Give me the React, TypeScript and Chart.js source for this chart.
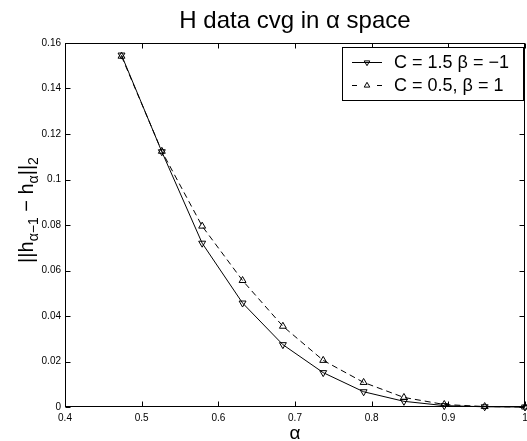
import React, { useEffect, useRef } from 'react';
import { Chart, registerables } from 'chart.js';

Chart.register(...registerables);

// ---- data ----
const alphaValues = [0.4737, 0.5263, 0.5789, 0.6316, 0.6842, 0.7368, 0.7895, 0.8421, 0.8947, 0.9474, 1.0];
const normC15 = [0.1547, 0.1122, 0.0720, 0.0457, 0.0274, 0.0151, 0.0067, 0.0025, 0.0006, 0.0001, 0.0];
const normC05 = [0.1542, 0.1124, 0.0795, 0.0556, 0.0355, 0.0205, 0.0108, 0.0042, 0.0011, 0.0002, 0.0];
const xTickValues = [0.4, 0.5, 0.6, 0.7, 0.8, 0.9, 1];
const yTickValues = [0, 0.02, 0.04, 0.06, 0.08, 0.1, 0.12, 0.14, 0.16];
const seriesLabels = ['C = 1.5 \u03b2 = \u22121', 'C = 0.5, \u03b2 = 1'];
const titleText = 'H data cvg in \u03b1 space';
const xTitleText = '\u03b1';
// y title pieces: [text, isSubscript]
const yTitleParts: [string, boolean][] = [
  ['||h', false],
  ['\u03b1\u22121', true],
  [' \u2212 h', false],
  ['\u03b1', true],
  ['||', false],
  ['2', true],
];

const FONT = "'Liberation Sans', Arial, Helvetica, sans-serif";

const fmt = (v: number) => String(Number(v.toFixed(2)));

function drawTri(ctx: CanvasRenderingContext2D, x: number, y: number, r: number, down: boolean) {
  const h = r * 1.5;
  const half = r * 0.866;
  ctx.beginPath();
  if (down) {
    ctx.moveTo(x - half, y - h / 3);
    ctx.lineTo(x + half, y - h / 3);
    ctx.lineTo(x, y + (2 * h) / 3);
  } else {
    ctx.moveTo(x - half, y + h / 3);
    ctx.lineTo(x + half, y + h / 3);
    ctx.lineTo(x, y - (2 * h) / 3);
  }
  ctx.closePath();
  ctx.stroke();
}

const decorPlugin = {
  id: 'matlabDecor',
  afterDraw(chart: any) {
    const { ctx, chartArea: a, scales } = chart;
    const xs = scales.x;
    const ys = scales.y;
    ctx.save();
    ctx.strokeStyle = '#000';
    ctx.lineWidth = 1;
    ctx.setLineDash([]);
    const L = Math.round(a.left) + 0.5;
    const R = Math.round(a.right) - 0.5;
    const T = Math.round(a.top) + 0.5;
    const B = Math.round(a.bottom) - 0.5;
    ctx.strokeRect(L, T, R - L, B - T);
    ctx.beginPath();
    xTickValues.forEach((v) => {
      const px = Math.round(xs.getPixelForValue(v)) + 0.5;
      ctx.moveTo(px, B);
      ctx.lineTo(px, B - 5);
      ctx.moveTo(px, T);
      ctx.lineTo(px, T + 5);
    });
    yTickValues.forEach((v) => {
      const py = Math.round(ys.getPixelForValue(v)) + 0.5;
      ctx.moveTo(L, py);
      ctx.lineTo(L + 5, py);
      ctx.moveTo(R, py);
      ctx.lineTo(R - 5, py);
    });
    ctx.stroke();

    // legend
    const lx = 342.5, ly = 47.5, lw = 181, lh = 53;
    ctx.fillStyle = '#fff';
    ctx.fillRect(lx, ly, lw, lh);
    ctx.strokeRect(lx, ly, lw, lh);
    const rows = [62, 85];
    chart.data.datasets.forEach((ds: any, i: number) => {
      const y = rows[i] + 0.5;
      ctx.strokeStyle = ds.borderColor;
      ctx.lineWidth = 1;
      ctx.beginPath();
      if (!ds.borderDash) {
        ctx.moveTo(352, y);
        ctx.lineTo(382, y);
      } else {
        ctx.moveTo(352, y);
        ctx.lineTo(357, y);
        ctx.moveTo(377, y);
        ctx.lineTo(382, y);
      }
      ctx.stroke();
      drawTri(ctx, 367, y, 3.2, ds.pointRotation === 180);
      ctx.fillStyle = '#000';
      ctx.font = `18px ${FONT}`;
      ctx.textBaseline = 'middle';
      ctx.textAlign = 'left';
      ctx.fillText(ds.label, 394, rows[i] + 1);
    });

    // y axis title with subscripts
    ctx.save();
    ctx.translate(27, 210);
    ctx.rotate(-Math.PI / 2);
    ctx.fillStyle = '#000';
    ctx.textBaseline = 'middle';
    ctx.textAlign = 'left';
    const mainFont = `20px ${FONT}`;
    const subFont = `14px ${FONT}`;
    let total = 0;
    yTitleParts.forEach(([t, sub]) => {
      ctx.font = sub ? subFont : mainFont;
      total += ctx.measureText(t).width;
    });
    let cx = -total / 2;
    yTitleParts.forEach(([t, sub]) => {
      ctx.font = sub ? subFont : mainFont;
      ctx.fillText(t, cx, sub ? 7 : 0);
      cx += ctx.measureText(t).width;
    });
    ctx.restore();

    ctx.restore();
  },
};

export default function App() {
  const ref = useRef<HTMLCanvasElement>(null);
  useEffect(() => {
    const canvas = ref.current;
    if (!canvas) return;
    const chart = new Chart(canvas, {
      type: 'line',
      data: {
        datasets: [
          {
            label: seriesLabels[0],
            data: alphaValues.map((x, i) => ({ x, y: normC15[i] })),
            borderColor: '#000',
            backgroundColor: 'rgba(0,0,0,0)',
            borderWidth: 1,
            pointStyle: 'triangle',
            pointRotation: 180,
            pointRadius: 4,
            pointBorderWidth: 1,
            pointBorderColor: '#000',
            pointBackgroundColor: 'rgba(0,0,0,0)',
            tension: 0,
            clip: false,
          } as any,
          {
            label: seriesLabels[1],
            data: alphaValues.map((x, i) => ({ x, y: normC05[i] })),
            borderColor: '#000',
            backgroundColor: 'rgba(0,0,0,0)',
            borderWidth: 1,
            borderDash: [6, 4],
            pointStyle: 'triangle',
            pointRotation: 0,
            pointRadius: 4,
            pointBorderWidth: 1,
            pointBorderColor: '#000',
            pointBackgroundColor: 'rgba(0,0,0,0)',
            tension: 0,
            clip: false,
          } as any,
        ],
      },
      options: {
        animation: false,
        responsive: false,
        events: [],
        layout: { padding: { left: 0, right: 15, top: 0, bottom: 0 } },
        plugins: {
          legend: { display: false },
          tooltip: { enabled: false },
          title: {
            display: true,
            text: titleText,
            fullSize: false,
            color: '#000',
            font: { family: FONT, size: 24, weight: 'normal', lineHeight: 1.2 },
            padding: { top: 6.6, bottom: 7.6 },
          },
        },
        scales: {
          x: {
            type: 'linear',
            min: 0.4,
            max: 1,
            afterBuildTicks: (s: any) => {
              s.ticks = xTickValues.map((v) => ({ value: v }));
            },
            afterFit: (s: any) => {
              s.height = 38;
            },
            grid: { display: false, drawTicks: false },
            border: { display: false },
            ticks: {
              color: '#000',
              font: { family: FONT, size: 10 },
              padding: 5,
              maxRotation: 0,
              autoSkip: false,
              callback: (v: any) => fmt(Number(v)),
            },
            title: {
              display: true,
              text: xTitleText,
              color: '#000',
              font: { family: FONT, size: 19, lineHeight: 1.2 },
              padding: { top: 0, bottom: 0 },
            },
          },
          y: {
            type: 'linear',
            min: 0,
            max: 0.16,
            afterBuildTicks: (s: any) => {
              s.ticks = yTickValues.map((v) => ({ value: v }));
            },
            afterFit: (s: any) => {
              s.width = 65;
            },
            grid: { display: false, drawTicks: false },
            border: { display: false },
            ticks: {
              color: '#000',
              font: { family: FONT, size: 10 },
              padding: 4,
              autoSkip: false,
              callback: (v: any) => fmt(Number(v)),
            },
          },
        },
      },
      plugins: [decorPlugin],
    });
    return () => chart.destroy();
  }, []);
  return (
    <div style={{ position: 'absolute', left: 0, top: 0, width: 527, height: 441, overflow: 'hidden', background: '#fff' }}>
      <canvas ref={ref} width={540} height={445} style={{ display: 'block' }} />
    </div>
  );
}
